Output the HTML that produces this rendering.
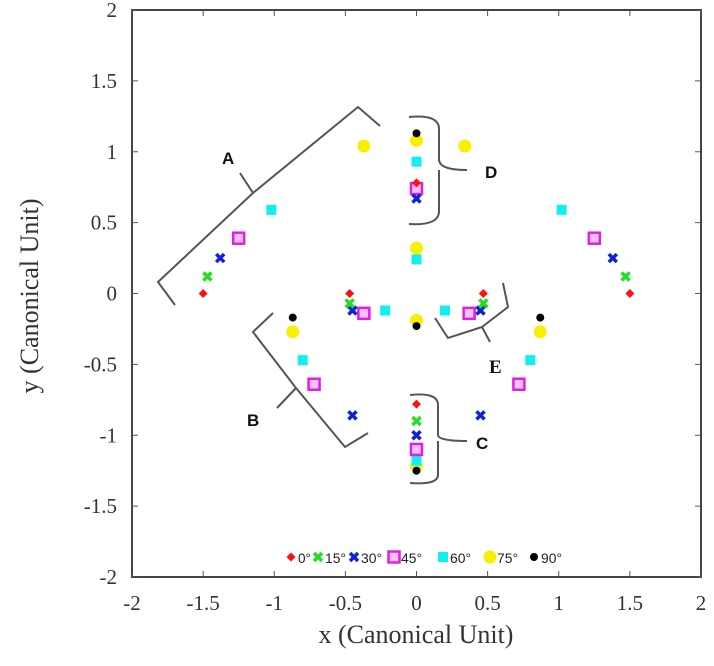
<!DOCTYPE html>
<html><head><meta charset="utf-8"><style>
body{margin:0;background:#fff}
svg text{font-family:"Liberation Serif",serif}
</style></head><body>
<svg id="chart" width="714" height="661" xmlns="http://www.w3.org/2000/svg">
<g id="axes"></g>
<g id="marks"></g>
<g id="annotations" fill="none" stroke="#555" stroke-width="2">
<path d="M175,305 L158,282 L253,193 L240,173 M253,193 L358,107 L380,126"/>
<path d="M409,117 Q440,114 439,130 L439,160 Q440,170 467,170 M439,170 L439,210 Q440,226 409,224"/>
<path d="M273,313 L253,332 L296,388 L277,408 M296,388 L345,447 L368,433"/>
<path d="M410,395 Q438,392 438,405 L438,435 Q438,441 467,441 M438,441 L438,475 Q438,485 410,483"/>
<path d="M435,318 L448,338 L482,327 L490,342 M482,327 L508,307 L503,283"/>
</g>
<g font-weight="bold" font-size="17" fill="#111">
<text x="222" y="164" style="font-family:'Liberation Sans',sans-serif">A</text>
<text x="485" y="178" style="font-family:'Liberation Sans',sans-serif">D</text>
<text x="247" y="426" style="font-family:'Liberation Sans',sans-serif">B</text>
<text x="476" y="449" style="font-family:'Liberation Sans',sans-serif">C</text>
<text x="489" y="373" font-size="19">E</text>
</g>
<g id="legend"></g>
</svg>
<script>
const xTicks=[-2,-1.5,-1,-0.5,0,0.5,1,1.5,2];
const yTicks=[-2,-1.5,-1,-0.5,0,0.5,1,1.5,2];
const seriesNames=["0°","15°","30°","45°","60°","75°","90°"];
const s0x=[-1.5,1.5,-0.47,0.47,0,0];
const s0y=[0,0,0,0,0.78,-0.78];
const s15x=[-1.47,1.47,-0.47,0.47,0];
const s15y=[0.12,0.12,-0.07,-0.07,-0.9];
const s30x=[-1.38,1.38,-0.45,0.45,0,0,-0.45,0.45];
const s30y=[0.25,0.25,-0.12,-0.12,0.67,-1.0,-0.86,-0.86];
const s45x=[-1.25,1.25,-0.37,0.37,0,0,-0.72,0.72];
const s45y=[0.39,0.39,-0.14,-0.14,0.74,-1.1,-0.64,-0.64];
const s60x=[-1.02,1.02,-0.22,0.2,0,0,0,-0.8,0.8];
const s60y=[0.59,0.59,-0.12,-0.12,0.93,0.24,-1.18,-0.47,-0.47];
const s75x=[-0.37,0.34,0,0,0,0,-0.87,0.87];
const s75y=[1.04,1.04,1.08,0.32,-0.19,-1.22,-0.27,-0.27];
const s90x=[0,0,0,-0.87,0.87];
const s90y=[1.13,-0.23,-1.25,-0.17,-0.17];

const NS="http://www.w3.org/2000/svg";
const X0=132,X1=701,Y0=10,Y1=577;
const sx=v=>X0+(v+2)/4*(X1-X0);
const sy=v=>Y1-(v+2)/4*(Y1-Y0);
function mk(tag,attrs,parent){const e=document.createElementNS(NS,tag);for(const k in attrs)e.setAttribute(k,attrs[k]);parent.appendChild(e);return e;}
const axes=document.getElementById('axes');
const frame=mk('rect',{x:X0,y:Y0,width:X1-X0,height:Y1-Y0,fill:'none',stroke:'#444','stroke-width':2},axes);


xTicks.forEach(t=>{const x=sx(t);
 mk('line',{x1:x,x2:x,y1:Y1,y2:Y1-6,stroke:'#555'},axes);
 mk('line',{x1:x,x2:x,y1:Y0,y2:Y0+6,stroke:'#555'},axes);
 const tx=mk('text',{x:x,y:Y1+33,'text-anchor':'middle','font-size':21,fill:'#333'},axes);tx.textContent=String(t);
 
 
});
yTicks.forEach(t=>{const y=sy(t);
 mk('line',{x1:X0,x2:X0+6,y1:y,y2:y,stroke:'#555'},axes);
 mk('line',{x1:X1,x2:X1-6,y1:y,y2:y,stroke:'#555'},axes);
 const tx=mk('text',{x:117,y:y+7,'text-anchor':'end','font-size':21,fill:'#333'},axes);tx.textContent=String(t);
 
 
});
const xt=mk('text',{x:416,y:643,'text-anchor':'middle','font-size':26,fill:'#333'},axes);xt.textContent='x (Canonical Unit)';


const yt=mk('text',{x:38,y:296,'text-anchor':'middle','font-size':26,fill:'#333',transform:'rotate(-90 38 296)'},axes);yt.textContent='y (Canonical Unit)';



const colors=['#ff1010','#22e022','#1020e0','#e020e0','#10f0f0','#f8f000','#000000'];
function marker(i,x,y,parent){
 let e;
 if(i===0) e=mk('path',{d:`M${x},${y-4.5} L${x+4.5},${y} L${x},${y+4.5} L${x-4.5},${y}Z`,fill:colors[0]},parent);
 else if(i===1||i===2) e=mk('path',{d:`M${x-4},${y-4}L${x+4},${y+4}M${x+4},${y-4}L${x-4},${y+4}`,stroke:colors[i],'stroke-width':3.5},parent);
 else if(i===3){e=mk('rect',{x:x-5.5,y:y-5.5,width:11,height:11,fill:'#f8c0f8',stroke:colors[3],'stroke-width':2.5},parent);}
 else if(i===4) e=mk('rect',{x:x-5,y:y-5,width:10,height:10,fill:colors[4]},parent);
 else if(i===5) e=mk('circle',{cx:x,cy:y,r:6.5,fill:colors[5]},parent);
 else e=mk('circle',{cx:x,cy:y,r:4,fill:colors[6]},parent);
 return e;
}
const marks=document.getElementById('marks');
const XS=[s0x,s15x,s30x,s45x,s60x,s75x,s90x],YS=[s0y,s15y,s30y,s45y,s60y,s75y,s90y];
const order=[5,4,3,2,1,0,6];
order.forEach(i=>{XS[i].forEach((v,j)=>{
 const m=marker(i,sx(v),sy(YS[i][j]),marks);
 
 
});});
const legend=document.getElementById('legend');
const lx=[291,318,354,394,443,490,534];
seriesNames.forEach((n,i)=>{
 const g=mk('g',{},legend);
 
 
 marker(i,lx[i],557,g);
 const t=mk('text',{x:lx[i]+7,y:563,'font-size':14,fill:'#222',textLength:n.length>2?21:13,lengthAdjust:'spacingAndGlyphs',style:"font-family:'Liberation Sans',sans-serif"},g);t.textContent=n;
});
</script>
</body></html>
